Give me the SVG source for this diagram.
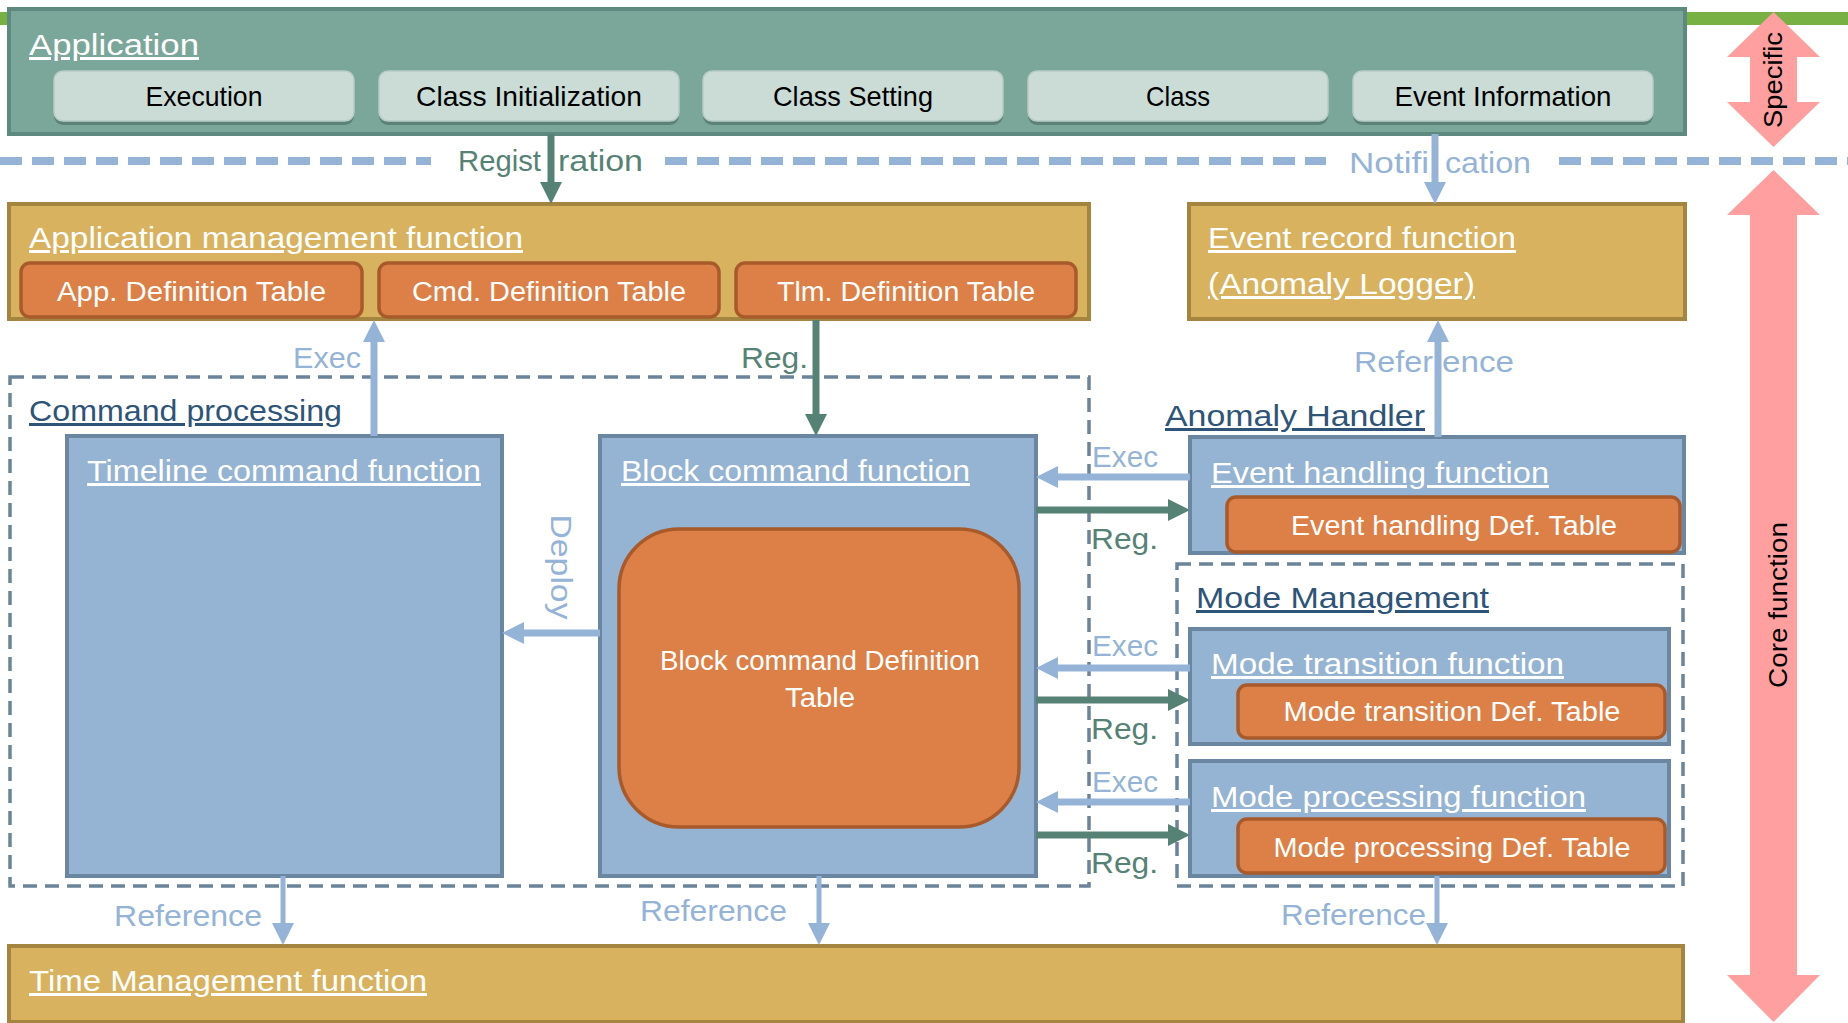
<svg xmlns="http://www.w3.org/2000/svg" width="1848" height="1023" viewBox="0 0 1848 1023">
<style>
  text { font-family: "Liberation Sans", Arial, sans-serif; }
  .t { fill:#ffffff; font-size:30px; text-decoration:underline; }
  .tb { fill:#2E5478; font-size:30px; text-decoration:underline; }
  .sub { fill:#CBDCD6; stroke:#B7CCC5; stroke-width:1.5; }
  .subsh { fill:#5C8277; }
  .subt { fill:#000000; font-size:28px; text-anchor:middle; }
  .gold { fill:#D8B25E; stroke:#A3853F; stroke-width:4; }
  .org { fill:#DD8047; stroke:#A85A2B; stroke-width:3.5; }
  .orgt { fill:#ffffff; font-size:27px; text-anchor:middle; }
  .blue { fill:#95B3D2; stroke:#6A86A1; stroke-width:4; }
  .dash { fill:none; stroke:#6B8499; stroke-width:3.5; stroke-dasharray:14 8; }
  .sep { fill:none; stroke:#95B3D7; stroke-width:8; stroke-dasharray:22 10; }
  .la { stroke:#95B3D7; stroke-width:7; fill:none; marker-end:url(#hl); }
  .lb { stroke:#95B3D7; stroke-width:5; fill:none; marker-end:url(#hl); }
  .da { stroke:#568275; stroke-width:7; fill:none; marker-end:url(#hd); }
  .lt { fill:#95B3D7; font-size:30px; }
  .dt { fill:#568275; font-size:30px; }
  .pink { fill:#FF9F9F; }
  .vt { fill:#000000; font-size:26px; text-anchor:middle; }
</style>
<defs>
  <marker id="hl" markerUnits="userSpaceOnUse" markerWidth="24" markerHeight="24" refX="10" refY="11" orient="auto" viewBox="0 0 24 24">
    <path d="M0,0 L22,11 L0,22 Z" fill="#95B3D7"/>
  </marker>
  <marker id="hd" markerUnits="userSpaceOnUse" markerWidth="24" markerHeight="24" refX="10" refY="11" orient="auto" viewBox="0 0 24 24">
    <path d="M0,0 L22,11 L0,22 Z" fill="#568275"/>
  </marker>
</defs>

<!-- background decorations -->
<rect x="0" y="12" width="1848" height="13" fill="#77B043"/>
<g id="separator">
  <line class="sep" x1="0" y1="161" x2="431" y2="161"/>
  <line class="sep" x1="665" y1="161" x2="1326" y2="161"/>
  <line class="sep" x1="1559" y1="161" x2="1848" y2="161"/>
</g>

<!-- Application -->
<g id="application">
  <rect x="9" y="9" width="1676" height="125" fill="#7BA69A" stroke="#5E897E" stroke-width="4"/>
  <text class="t" x="29" y="55" font-size="31" textLength="170" lengthAdjust="spacingAndGlyphs">Application</text>
</g>
<g id="execution">
  <rect class="subsh" x="54" y="74" width="300" height="51" rx="9"/>
  <rect class="sub" x="54" y="71" width="300" height="50" rx="9"/>
  <text class="subt" x="204" y="106" textLength="117" lengthAdjust="spacingAndGlyphs">Execution</text>
</g>
<g id="class-initialization">
  <rect class="subsh" x="379" y="74" width="300" height="51" rx="9"/>
  <rect class="sub" x="379" y="71" width="300" height="50" rx="9"/>
  <text class="subt" x="529" y="106" textLength="226" lengthAdjust="spacingAndGlyphs">Class Initialization</text>
</g>
<g id="class-setting">
  <rect class="subsh" x="703" y="74" width="300" height="51" rx="9"/>
  <rect class="sub" x="703" y="71" width="300" height="50" rx="9"/>
  <text class="subt" x="853" y="106" textLength="160" lengthAdjust="spacingAndGlyphs">Class Setting</text>
</g>
<g id="class">
  <rect class="subsh" x="1028" y="74" width="300" height="51" rx="9"/>
  <rect class="sub" x="1028" y="71" width="300" height="50" rx="9"/>
  <text class="subt" x="1178" y="106" textLength="64" lengthAdjust="spacingAndGlyphs">Class</text>
</g>
<g id="event-information">
  <rect class="subsh" x="1353" y="74" width="300" height="51" rx="9"/>
  <rect class="sub" x="1353" y="71" width="300" height="50" rx="9"/>
  <text class="subt" x="1503" y="106" textLength="217" lengthAdjust="spacingAndGlyphs">Event Information</text>
</g>

<!-- Application management function -->
<g id="app-management">
  <rect class="gold" x="9" y="204" width="1080" height="115"/>
  <text class="t" x="29" y="248" textLength="494" lengthAdjust="spacingAndGlyphs">Application management function</text>
</g>
<g id="app-def-table">
  <rect class="org" x="21" y="263" width="341" height="54" rx="9"/>
  <text class="orgt" x="191.5" y="301" textLength="269" lengthAdjust="spacingAndGlyphs">App. Definition Table</text>
</g>
<g id="cmd-def-table">
  <rect class="org" x="379" y="263" width="340" height="54" rx="9"/>
  <text class="orgt" x="549" y="301" textLength="274" lengthAdjust="spacingAndGlyphs">Cmd. Definition Table</text>
</g>
<g id="tlm-def-table">
  <rect class="org" x="736" y="263" width="340" height="54" rx="9"/>
  <text class="orgt" x="906" y="301" textLength="258" lengthAdjust="spacingAndGlyphs">Tlm. Definition Table</text>
</g>

<!-- Event record function -->
<g id="event-record">
  <rect class="gold" x="1189" y="204" width="496" height="115"/>
  <text class="t" x="1208" y="248" textLength="308" lengthAdjust="spacingAndGlyphs">Event record function</text>
  <text class="t" x="1208" y="294" textLength="267" lengthAdjust="spacingAndGlyphs">(Anomaly Logger)</text>
</g>

<!-- Command processing -->
<g id="command-processing">
  <rect class="dash" x="10" y="377" width="1079" height="509"/>
  <text class="tb" x="29" y="421" textLength="313" lengthAdjust="spacingAndGlyphs">Command processing</text>
</g>
<g id="timeline-command">
  <rect class="blue" x="67" y="436" width="435" height="440"/>
  <text class="t" x="87" y="481" textLength="394" lengthAdjust="spacingAndGlyphs">Timeline command function</text>
</g>
<g id="block-command">
  <rect class="blue" x="600" y="436" width="436" height="440"/>
  <text class="t" x="621" y="481" textLength="349" lengthAdjust="spacingAndGlyphs">Block command function</text>
</g>
<g id="block-def-table">
  <rect class="org" x="619" y="529" width="400" height="298" rx="60"/>
  <text class="orgt" x="820" y="670" textLength="320" lengthAdjust="spacingAndGlyphs">Block command Definition</text>
  <text class="orgt" x="820" y="707" textLength="70" lengthAdjust="spacingAndGlyphs">Table</text>
</g>

<!-- Anomaly Handler -->
<g id="anomaly-handler">
  <text class="tb" x="1165" y="426" textLength="260" lengthAdjust="spacingAndGlyphs">Anomaly Handler</text>
</g>
<g id="event-handling">
  <rect class="blue" x="1190" y="437" width="494" height="116"/>
  <text class="t" x="1211" y="483" textLength="338" lengthAdjust="spacingAndGlyphs">Event handling function</text>
</g>
<g id="event-handling-table">
  <rect class="org" x="1227" y="497" width="453" height="55" rx="9"/>
  <text class="orgt" x="1454" y="535" textLength="326" lengthAdjust="spacingAndGlyphs">Event handling Def. Table</text>
</g>

<!-- Mode Management -->
<g id="mode-management">
  <rect class="dash" x="1177" y="564" width="506" height="322"/>
  <text class="tb" x="1196" y="608" textLength="293" lengthAdjust="spacingAndGlyphs">Mode Management</text>
</g>
<g id="mode-transition">
  <rect class="blue" x="1190" y="629" width="479" height="115"/>
  <text class="t" x="1211" y="674" textLength="353" lengthAdjust="spacingAndGlyphs">Mode transition function</text>
</g>
<g id="mode-transition-table">
  <rect class="org" x="1238" y="685" width="427" height="53" rx="9"/>
  <text class="orgt" x="1452" y="721" textLength="337" lengthAdjust="spacingAndGlyphs">Mode transition Def. Table</text>
</g>
<g id="mode-processing">
  <rect class="blue" x="1190" y="761" width="479" height="115"/>
  <text class="t" x="1211" y="807" textLength="375" lengthAdjust="spacingAndGlyphs">Mode processing function</text>
</g>
<g id="mode-processing-table">
  <rect class="org" x="1238" y="819" width="427" height="54" rx="9"/>
  <text class="orgt" x="1452" y="857" textLength="357" lengthAdjust="spacingAndGlyphs">Mode processing Def. Table</text>
</g>

<!-- Time Management -->
<g id="time-management">
  <rect class="gold" x="9" y="946" width="1674" height="76"/>
  <text class="t" x="29" y="991" textLength="398" lengthAdjust="spacingAndGlyphs">Time Management function</text>
</g>

<!-- Side arrows -->
<g id="specific">
  <polygon class="pink" points="1773.5,12 1820,57 1797,57 1797,102 1820,102 1773.5,147 1727,102 1750,102 1750,57 1727,57"/>
  <text class="vt" transform="translate(1782,80) rotate(-90)" font-size="26" textLength="96" lengthAdjust="spacingAndGlyphs">Specific</text>
</g>
<g id="core-function">
  <polygon class="pink" points="1773.5,170 1820,215 1797,215 1797,975 1820,975 1773.5,1022 1727,975 1750,975 1750,215 1727,215"/>
  <text class="vt" transform="translate(1787,605) rotate(-90)" font-size="28" textLength="166" lengthAdjust="spacingAndGlyphs">Core function</text>
</g>

<!-- Connectors -->
<g id="connectors">
  <line class="da" x1="551" y1="134" x2="551" y2="192"/>
  <line class="la" x1="1435" y1="134" x2="1435" y2="192"/>
  <line class="la" x1="374" y1="436" x2="374" y2="332"/>
  <line class="da" x1="816" y1="320" x2="816" y2="424"/>
  <line class="la" x1="1438" y1="437" x2="1438" y2="332"/>
  <line class="la" x1="600" y1="633" x2="514" y2="633"/>
  <line class="la" x1="1190" y1="477" x2="1048" y2="477"/>
  <line class="da" x1="1036" y1="510" x2="1178" y2="510"/>
  <line class="la" x1="1190" y1="668" x2="1048" y2="668"/>
  <line class="da" x1="1036" y1="700" x2="1178" y2="700"/>
  <line class="la" x1="1190" y1="802" x2="1048" y2="802"/>
  <line class="da" x1="1036" y1="835" x2="1178" y2="835"/>
  <line class="lb" x1="283" y1="876" x2="283" y2="933"/>
  <line class="lb" x1="819" y1="876" x2="819" y2="933"/>
  <line class="lb" x1="1437" y1="876" x2="1437" y2="933"/>

  <text class="dt" y="171"><tspan x="458" textLength="83" lengthAdjust="spacingAndGlyphs">Regist</tspan><tspan x="558" textLength="85" lengthAdjust="spacingAndGlyphs">ration</tspan></text>
  <text class="lt" y="173"><tspan x="1349" textLength="80" lengthAdjust="spacingAndGlyphs">Notifi</tspan><tspan x="1445" textLength="86" lengthAdjust="spacingAndGlyphs">cation</tspan></text>
  <text class="lt" y="372"><tspan x="1354" textLength="79" lengthAdjust="spacingAndGlyphs">Refer</tspan><tspan x="1442" textLength="72" lengthAdjust="spacingAndGlyphs">ence</tspan></text>
  <text class="lt" x="293" y="368" textLength="68" lengthAdjust="spacingAndGlyphs">Exec</text>
  <text class="dt" x="741" y="368" textLength="67" lengthAdjust="spacingAndGlyphs">Reg.</text>
  <text class="lt" transform="translate(551,567) rotate(90)" text-anchor="middle" textLength="105" lengthAdjust="spacingAndGlyphs">Deploy</text>
  <text class="lt" x="1092" y="467" textLength="66" lengthAdjust="spacingAndGlyphs">Exec</text>
  <text class="dt" x="1091" y="549" textLength="67" lengthAdjust="spacingAndGlyphs">Reg.</text>
  <text class="lt" x="1092" y="656" textLength="66" lengthAdjust="spacingAndGlyphs">Exec</text>
  <text class="dt" x="1091" y="739" textLength="67" lengthAdjust="spacingAndGlyphs">Reg.</text>
  <text class="lt" x="1092" y="792" textLength="66" lengthAdjust="spacingAndGlyphs">Exec</text>
  <text class="dt" x="1091" y="873" textLength="67" lengthAdjust="spacingAndGlyphs">Reg.</text>
  <text class="lt" x="114" y="926" textLength="148" lengthAdjust="spacingAndGlyphs">Reference</text>
  <text class="lt" x="640" y="921" textLength="147" lengthAdjust="spacingAndGlyphs">Reference</text>
  <text class="lt" x="1281" y="925" textLength="145" lengthAdjust="spacingAndGlyphs">Reference</text>
</g>
</svg>
